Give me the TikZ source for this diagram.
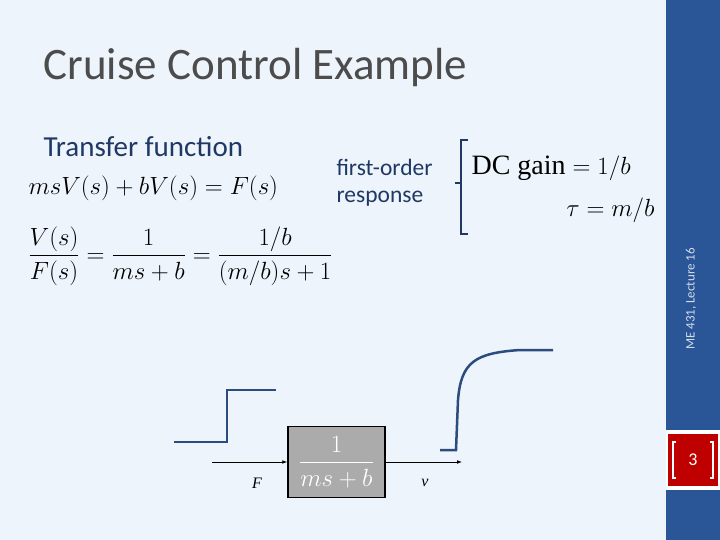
\documentclass[tikz,border=0pt]{standalone}
\usepackage{amsmath}
\usepackage{fontspec}
\setmainfont{Liberation Serif}
\newfontfamily\carl{Carlito}
\usetikzlibrary{arrows.meta}
\definecolor{bg}{HTML}{EEF4FB}
\definecolor{side}{HTML}{2A5597}
\definecolor{curve}{HTML}{2B4C7E}
\definecolor{txt}{HTML}{1F3864}
\begin{document}
\begin{tikzpicture}[x=1pt,y=-1pt,
  sig/.style={draw=curve,line width=2.5pt},
  conn/.style={draw=black,line width=0.8pt,-{Latex[length=5pt]}}]
\useasboundingbox (0,0) rectangle (720,540);
\fill[bg] (0,0) rectangle (720,540);
\fill[side] (666,0) rectangle (720,540);
\fill[white] (666,430) rectangle (720,490);
\fill[red!75!black] (668,434) rectangle (718,486);
\draw[white,line width=1.5pt] (676,442) -- (673,442) -- (673,478) -- (676,478);
\draw[white,line width=1.5pt] (710,442) -- (713,442) -- (713,478) -- (710,478);
\node[white,font=\carl\fontsize{18}{20}\selectfont] (pg) at (693,460) {3};
\node[rotate=90,text=white!80!side,font=\carl\fontsize{13}{15}\selectfont] (lec) at (691,299) {ME 431, Lecture 16};
\node[anchor=west,text=black!70,font=\carl\fontsize{45}{50}\selectfont] (title) at (40,68) {Cruise Control Example};
\node[anchor=west,text=txt,font=\carl\fontsize{29}{33}\selectfont] (tf) at (40,147) {Transfer function};
\node[anchor=west,font=\fontsize{25}{30}\selectfont] (eq1) at (25,188) {$msV(s)+bV(s)=F(s)$};
\node[anchor=west,font=\fontsize{26.5}{31}\selectfont] (eq2) at (25,256) {$\dfrac{V(s)}{F(s)}=\dfrac{1}{ms+b}=\dfrac{1/b}{(m/b)s+1}$};
\node[anchor=west,align=left,text=txt,font=\carl\fontsize{23.5}{27}\selectfont] (fo) at (333,183) {first-order\\response};
\draw[txt,line width=2pt] (468,140) -- (461,140) -- (461,234) -- (468,234);
\draw[txt,line width=2pt] (461,183) -- (455,183);
\node[anchor=west,font=\fontsize{28}{32}\selectfont] (dc) at (468,168) {DC gain $=1/b$};
\node[anchor=east,font=\fontsize{28}{32}\selectfont] (tau) at (658,210) {$\tau=m/b$};
\node[draw=black,line width=1.5pt,fill=black!33,minimum width=97pt,minimum height=71pt,inner sep=0pt,text=white,font=\fontsize{27}{31}\selectfont] (blk) at (336.5,462) {$\dfrac{1}{ms+b}$};
\coordinate (in) at (212,462);
\coordinate (out) at (462,462);
\draw[conn] (in) -- (blk.west);
\draw[conn] (blk.east) -- (out);
\node[font=\itshape\fontsize{16}{18}\selectfont] (F) at (257,483) {F};
\node[font=\itshape\fontsize{16}{18}\selectfont] (v) at (425,483) {v};
\draw[sig] (174,442) -- (227,442) -- (227,390) -- (276,390);
\draw[sig] (440,450) -- (456,450) -- (458,400) .. controls (461,362) and (475,353) .. (520,350) -- (553,350);
\end{tikzpicture}
\end{document}
